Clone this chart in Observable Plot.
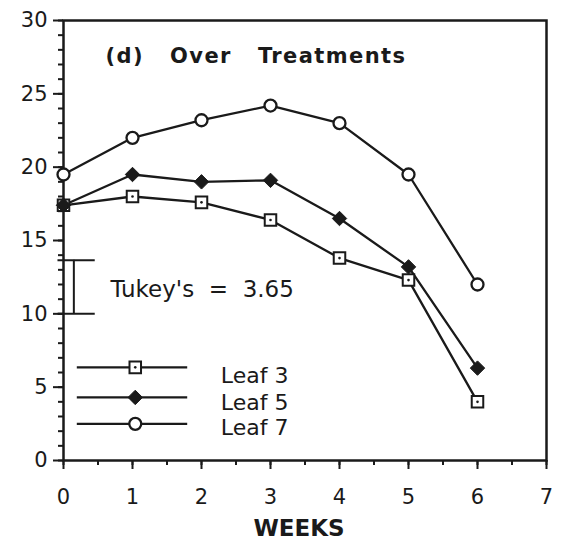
<!DOCTYPE html>
<html>
<head>
<meta charset="utf-8">
<script src="https://cdn.jsdelivr.net/npm/d3@7"></script>
<script src="https://cdn.jsdelivr.net/npm/@observablehq/plot@0.6"></script>
<style>
  html, body { margin: 0; padding: 0; background: #fff; }
  #chart svg { font-family: "DejaVu Sans", sans-serif; }
</style>
</head>
<body>
<div id="chart"></div>
<script>
// Data
const weeks = [0, 1, 2, 3, 4, 5, 6];
const leaf3 = [17.4, 18.0, 17.6, 16.4, 13.8, 12.3, 4.0];
const leaf5 = [17.4, 19.5, 19.0, 19.1, 16.5, 13.2, 6.3];
const leaf7 = [19.5, 22.0, 23.2, 24.2, 23.0, 19.5, 12.0];
const seriesNames = ["Leaf 3", "Leaf 5", "Leaf 7"];
const tukeyBase = 10;
const tukeyHSD = 3.65;
const xTicks = [0, 1, 2, 3, 4, 5, 6, 7];
const yTicks = [0, 5, 10, 15, 20, 25, 30];
const titleText = "(d)\u00a0\u00a0\u00a0Over\u00a0\u00a0\u00a0Treatments";
const tukeyText = "Tukey's\u00a0\u00a0=\u00a0\u00a03.65";
const xLabel = "WEEKS";

const toRows = (vals, name) => weeks.map((w, i) => ({week: w, value: vals[i], series: name}));
const rows3 = toRows(leaf3, seriesNames[0]);
const rows5 = toRows(leaf5, seriesNames[1]);
const rows7 = toRows(leaf7, seriesNames[2]);

// legend rows (placed in the lower-left empty region)
const legendY = [6.35, 4.3, 2.5];
const legendTextY = [5.75, 3.95, 2.2];
const legendRows = seriesNames.map((s, i) => ({series: s, y: legendY[i], ty: legendTextY[i]}));

const ink = "#1a1a1a";
const fmt = d3.format("d");

const plot = Plot.plot({
  width: 563,
  height: 545,
  marginLeft: 63,
  marginRight: 17,
  marginTop: 20,
  marginBottom: 85,
  style: {fontFamily: "DejaVu Sans, sans-serif", color: ink, background: "#fff"},
  x: {domain: [0, 7]},
  y: {domain: [0, 30]},
  marks: [
    Plot.frame({stroke: ink, strokeWidth: 2.5}),
    // axes
    Plot.axisY({ticks: d3.range(0, 31, 1), tickSize: 5, text: null, label: null, strokeWidth: 2}),
    Plot.axisY({ticks: yTicks, tickSize: 10, tickPadding: 6, tickFormat: fmt, fontSize: 21, label: null, strokeWidth: 2}),
    Plot.axisX({ticks: d3.range(0, 7.01, 0.5), tickSize: 5, text: null, label: null, strokeWidth: 2}),
    Plot.axisX({ticks: xTicks, tickSize: 9, tickPadding: 20, tickFormat: fmt, fontSize: 21, label: null, strokeWidth: 2}),
    Plot.text([xLabel], {frameAnchor: "bottom", lineAnchor: "middle", dx: -6, dy: 68, fontSize: 23, fontWeight: "bold", fill: ink}),
    Plot.text([titleText], {frameAnchor: "top-left", lineAnchor: "middle", dx: 42, dy: 36, fontSize: 21, fontWeight: "bold", textAnchor: "start", fill: ink}),

    // Tukey bar
    Plot.ruleX([tukeyBase], {x: () => 0.15, y1: tukeyBase, y2: tukeyBase + tukeyHSD, stroke: ink, strokeWidth: 2}),
    Plot.ruleY([tukeyBase, tukeyBase + tukeyHSD], {x1: -0.08, x2: 0.46, stroke: ink, strokeWidth: 2}),
    Plot.text([tukeyText], {x: 0.68, y: 11.65, textAnchor: "start", fontSize: 23, fill: ink}),

    // lines
    Plot.line(rows3, {x: "week", y: "value", stroke: ink, strokeWidth: 2.3}),
    Plot.line(rows5, {x: "week", y: "value", stroke: ink, strokeWidth: 2.3}),
    Plot.line(rows7, {x: "week", y: "value", stroke: ink, strokeWidth: 2.3}),

    // legend lines
    Plot.ruleY(legendRows, {y: "y", x1: 0.2, x2: 1.8, stroke: ink, strokeWidth: 2.3}),

    // markers: Leaf 3 squares with centre dot
    Plot.dot(rows3, {x: "week", y: "value", symbol: "square", r: 6.5, fill: "white", stroke: ink, strokeWidth: 2}),
    Plot.dot(rows3, {x: "week", y: "value", r: 1.3, fill: ink}),
    Plot.dot(legendRows.slice(0, 1), {x: () => 1.04, y: "y", symbol: "square", r: 6.5, fill: "white", stroke: ink, strokeWidth: 2}),
    Plot.dot(legendRows.slice(0, 1), {x: () => 1.04, y: "y", r: 1.3, fill: ink}),
    // Leaf 5 filled diamonds
    Plot.dot(rows5, {x: "week", y: "value", symbol: "diamond2", r: 6.5, fill: ink, stroke: ink, strokeWidth: 1}),
    Plot.dot(legendRows.slice(1, 2), {x: () => 1.04, y: "y", symbol: "diamond2", r: 6.5, fill: ink, stroke: ink, strokeWidth: 1}),
    // Leaf 7 open circles
    Plot.dot(rows7, {x: "week", y: "value", r: 6, fill: "white", stroke: ink, strokeWidth: 2.3}),
    Plot.dot(legendRows.slice(2, 3), {x: () => 1.04, y: "y", r: 6, fill: "white", stroke: ink, strokeWidth: 2.3}),

    // legend labels
    Plot.text(legendRows, {x: () => 2.28, y: "ty", text: "series", textAnchor: "start", fontSize: 22, fill: ink})
  ]
});

document.getElementById("chart").appendChild(plot);
// widen title letter spacing like the original
d3.select(plot).selectAll("text").filter(function() { return this.textContent === titleText; })
  .attr("letter-spacing", "1.4");
</script>
</body>
</html>
